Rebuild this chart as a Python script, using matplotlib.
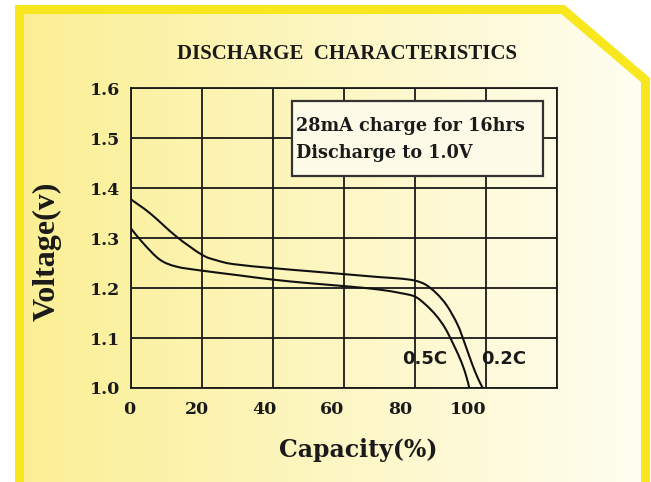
import numpy as np
import matplotlib
matplotlib.use("Agg")
import matplotlib.pyplot as plt
from matplotlib.patches import Polygon, Rectangle, PathPatch
from matplotlib.path import Path
from matplotlib.transforms import blended_transform_factory

# ---- data ----
cap_02c = [0, 5.4, 12.9, 20, 24, 28.9, 40, 50, 61.7, 70, 76, 80, 83, 86, 89, 92, 94, 96, 97.7, 99.1]
volt_02c = [1.378, 1.350, 1.303, 1.267, 1.256, 1.248, 1.240, 1.234, 1.227, 1.222, 1.219, 1.215,
            1.207, 1.190, 1.165, 1.127, 1.090, 1.050, 1.020, 1.000]
cap_05c = [0, 3.5, 8.2, 12.9, 20, 30, 40, 50, 61.7, 70, 76, 80, 83, 86, 88.5, 91, 93.2, 94.6, 95.3]
volt_05c = [1.320, 1.290, 1.257, 1.243, 1.235, 1.226, 1.217, 1.210, 1.203, 1.197, 1.190, 1.183,
            1.167, 1.145, 1.120, 1.085, 1.050, 1.020, 1.000]
x_grid = [0, 20, 40, 60, 80, 100, 120]
x_labels = ["0", "20", "40", "60", "80", "100"]
y_ticks = [1.0, 1.1, 1.2, 1.3, 1.4, 1.5, 1.6]
y_labels = ["1.0", "1.1", "1.2", "1.3", "1.4", "1.5", "1.6"]
title = "DISCHARGE  CHARACTERISTICS"
note_lines = ["28mA charge for 16hrs", "Discharge to 1.0V"]

W, H = 651, 482
fig = plt.figure(figsize=(W / 100, H / 100), dpi=100)
fig.patch.set_facecolor("white")

# ---- background panel ----
bg = fig.add_axes([0, 0, 1, 1])
bg.set_xlim(0, W)
bg.set_ylim(H, 0)
bg.axis("off")
outer = [(19.5, 495), (19.5, 9.5), (563, 9.5), (645.5, 80), (645.5, 495)]
grad = np.linspace(0, 1, 256)[None, :]
left_c = np.array([251, 239, 148]) / 255.0
right_c = np.array([255, 254, 242]) / 255.0
img = left_c[None, None, :] * (1 - grad[..., None]) + right_c[None, None, :] * grad[..., None]
im = bg.imshow(img, extent=[19.5, 645.5, 495, 9.5], aspect="auto", interpolation="bilinear", zorder=0)
clip = Polygon(outer, closed=True, transform=bg.transData)
im.set_clip_path(clip)
border = Polygon(outer, closed=True, fill=False, edgecolor="#f8e71f", linewidth=6.5,
                 joinstyle="miter", zorder=1)
bg.add_patch(border)

def fx(px):
    return px / W

def fy(py):
    return 1 - py / H

# ---- main axes ----
ax = fig.add_axes([fx(130.7), fy(388), (557 - 130.7) / W, (388 - 88.3) / H])
ax.set_facecolor("none")
ax.set_xlim(0, 120)
ax.set_ylim(1.0, 1.6)
for s in ax.spines.values():
    s.set_linewidth(1.3)
    s.set_color("#1a1a1a")
for xv in x_grid:
    ax.axvline(xv, color="#1a1a1a", lw=1.3, zorder=1)
for yv in y_ticks:
    ax.axhline(yv, color="#1a1a1a", lw=1.3, zorder=1)
ax.set_xticks([])
ax.set_yticks(y_ticks, y_labels)
ax.tick_params(axis="y", length=0, pad=7.5)
for lab in ax.get_yticklabels():
    lab.set_fontfamily("DejaVu Serif")
    lab.set_fontweight("bold")
    lab.set_fontsize(12.5)
    lab.set_color("#1a1a1a")

trans = blended_transform_factory(ax.transData, ax.transAxes)
for i, lab in enumerate(x_labels):
    val = x_grid[i]
    ax.text(val * 0.955 - 0.5, -0.0734, lab, transform=trans, ha="center", va="center",
            fontfamily="DejaVu Serif", fontweight="bold", fontsize=12.5, color="#1a1a1a")


def smooth_path(xs, ys):
    """Catmull-Rom curve through the points, drawn as cubic Bezier segments."""
    P = np.column_stack([xs, ys]).astype(float)
    ext = np.vstack([2 * P[0] - P[1], P, 2 * P[-1] - P[-2]])
    verts = [tuple(P[0])]
    codes = [Path.MOVETO]
    for i in range(1, len(ext) - 2):
        p0, p1, p2, p3 = ext[i - 1], ext[i], ext[i + 1], ext[i + 2]
        c1 = p1 + (p2 - p0) / 6.0
        c2 = p2 - (p3 - p1) / 6.0
        verts += [tuple(c1), tuple(c2), tuple(p2)]
        codes += [Path.CURVE4] * 3
    return Path(verts, codes)


for xs, ys in [(cap_02c, volt_02c), (cap_05c, volt_05c)]:
    patch = PathPatch(smooth_path(xs, ys), facecolor="none", edgecolor="#111111",
                      lw=1.5, zorder=3, capstyle="butt")
    patch.set_clip_on(True)
    ax.add_patch(patch)

ax.text(82.7, 1.059, "0.5C", ha="center", va="center", fontfamily="DejaVu Sans",
        fontweight="bold", fontsize=13, color="#1a1a1a", zorder=4)
ax.text(105.1, 1.059, "0.2C", ha="center", va="center", fontfamily="DejaVu Sans",
        fontweight="bold", fontsize=13, color="#1a1a1a", zorder=4)

# note box
box = Rectangle((0.3777, 0.7084), 0.9665 - 0.3777, 0.9586 - 0.7084, transform=ax.transAxes,
                facecolor="#fdfbe8", edgecolor="#333333", linewidth=1.6, zorder=5)
ax.add_patch(box)
fig.text(fx(296.5), fy(130.7), note_lines[0], ha="left", va="baseline", fontfamily="DejaVu Serif",
         fontweight="bold", fontsize=12.7, color="#1a1a1a", zorder=6)
fig.text(fx(296.5), fy(158.3), note_lines[1], ha="left", va="baseline", fontfamily="DejaVu Serif",
         fontweight="bold", fontsize=12.7, color="#1a1a1a", zorder=6)

# titles and labels
fig.text(fx(347), fy(59.3), title, ha="center", va="baseline", fontfamily="Liberation Serif",
         fontweight="bold", fontsize=15, color="#1a1a1a")
fig.text(fx(358), fy(450), "Capacity(%)", ha="center", va="center", fontfamily="DejaVu Serif",
         fontweight="bold", fontsize=17, color="#1a1a1a")
fig.text(fx(47.3), fy(251.5), "Voltage(v)", ha="center", va="center", rotation=90,
         fontfamily="Liberation Serif", fontweight="bold", fontsize=23, color="#1a1a1a")

fig.savefig("out.png", dpi=100, facecolor="white")
